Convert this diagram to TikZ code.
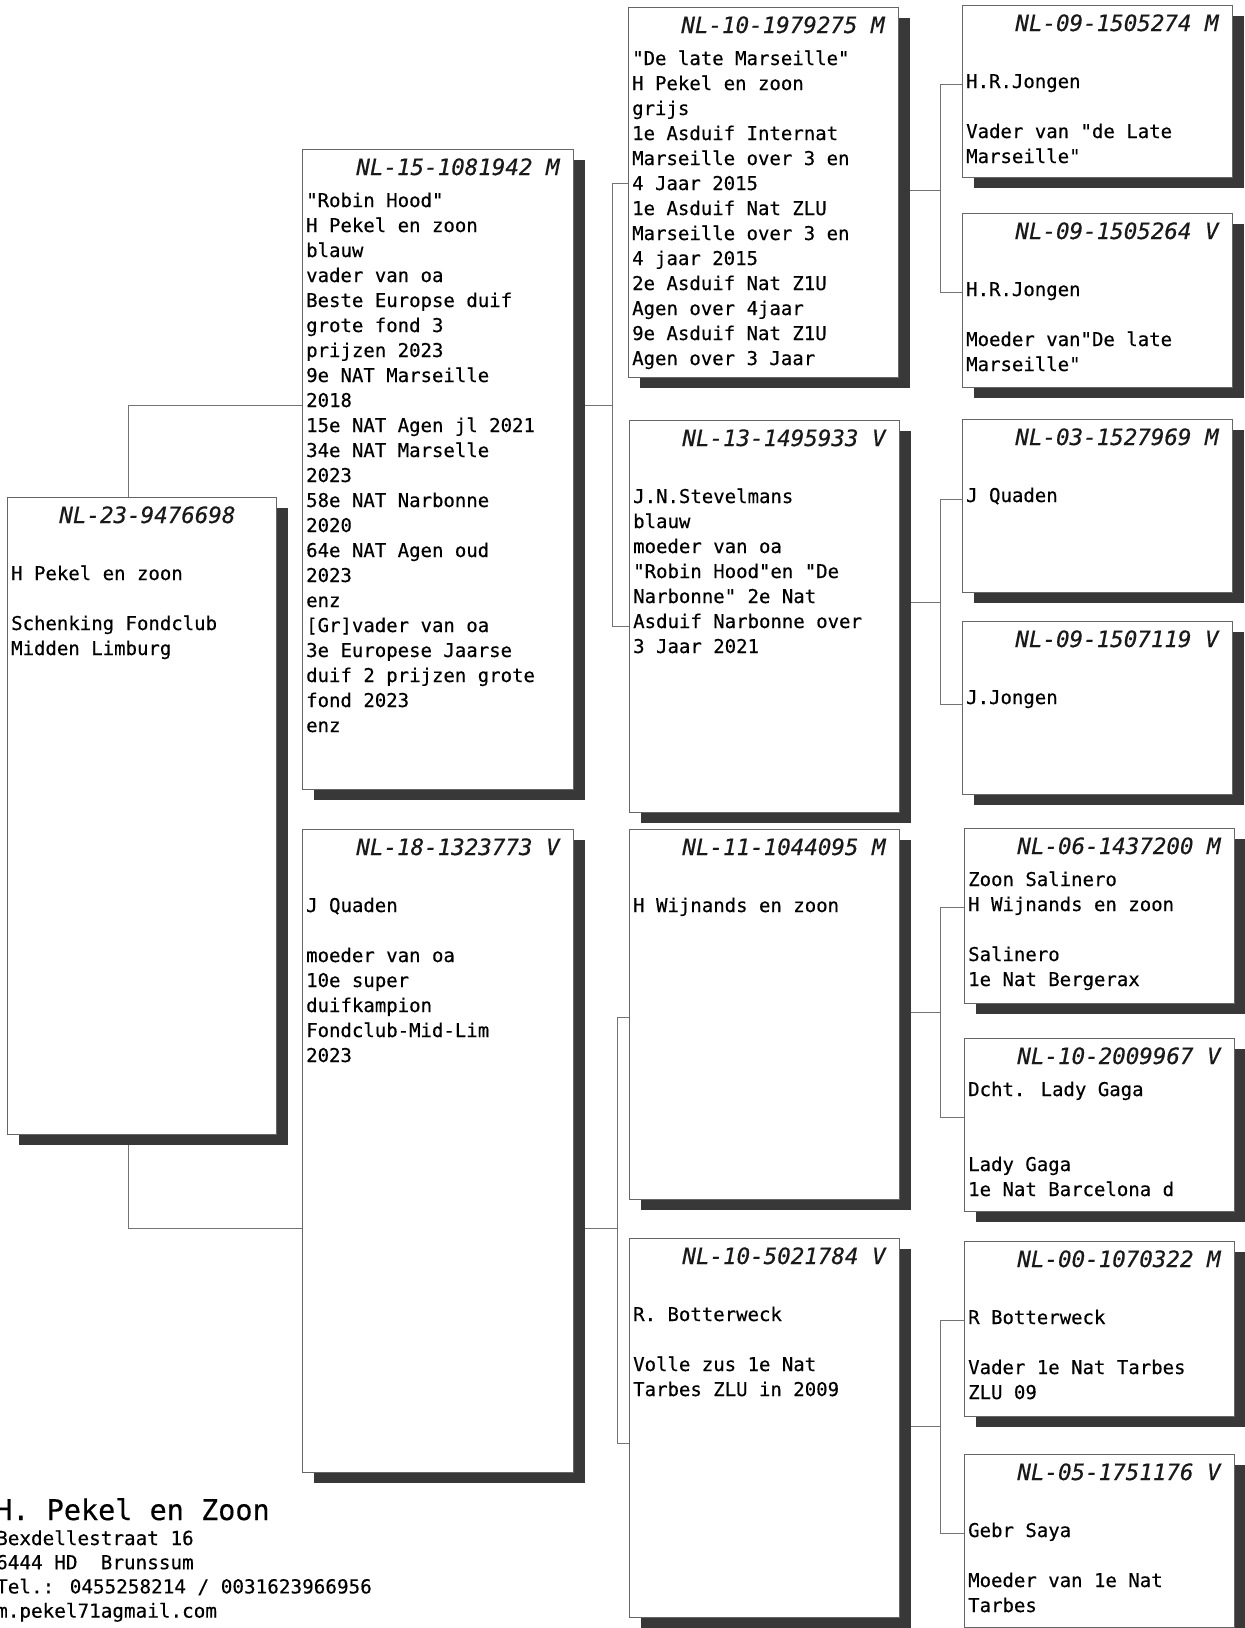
\documentclass[tikz,border=0pt]{standalone}
\usepackage{fontspec}
\newfontfamily\pedfont[FakeBold=0.4]{DejaVu Sans Mono}
\usetikzlibrary{shadows,backgrounds,calc}
\tikzset{
  pbox/.style={draw=black!60, line width=0.8pt, fill=white, anchor=north west, inner sep=0pt,
    drop shadow={shadow xshift=12pt, shadow yshift=-11pt, fill=black!78, opacity=1}},
  head/.style={inner sep=0pt, text=black!90, font=\pedfont\itshape\fontsize{22.5}{25}\selectfont},
  body/.style={inner sep=0pt, text=black, anchor=base west},
  conn/.style={draw=black!55, line width=0.7pt}
}
\newcommand\pedbox[7]{%
  \node[pbox, minimum width=#4pt, minimum height=#5pt] (#1) at (#2,#3) {};
  \node[head, anchor=base east] (#1h) at ($(#1.north east)+(-14,26)$) {#6};
  \node[body] (#1t) at ($(#1.north west)+(4,58)$) {\parbox[t]{265pt}{\pedfont\fontsize{19}{25}\selectfont\raggedright #7}};
}
\begin{document}
\begin{tikzpicture}[x=1pt,y=-1pt]
\useasboundingbox (0,0) rectangle (1245,1628);

% generation 1
\pedbox{A}{7}{497}{269}{637}{NL-23-9476698\phantom{\ M}}{\mbox{}\\H Pekel en zoon\\\mbox{}\\Schenking Fondclub\\Midden Limburg}

% generation 2
\pedbox{B1}{302}{149}{271}{640}{NL-15-1081942 M}{"Robin Hood"\\H Pekel en zoon\\blauw\\vader van oa\\Beste Europse duif\\grote fond 3\\prijzen 2023\\9e NAT Marseille\\2018\\15e NAT Agen jl 2021\\34e NAT Marselle\\2023\\58e NAT Narbonne\\2020\\64e NAT Agen oud\\2023\\enz\\{[}Gr{]}vader van oa\\3e Europese Jaarse\\duif 2 prijzen grote\\fond 2023\\enz}
\pedbox{B2}{302}{829}{271}{643}{NL-18-1323773 V}{\mbox{}\\J Quaden\\\mbox{}\\moeder van oa\\10e super\\duifkampion\\Fondclub-Mid-Lim\\2023}

% generation 3
\pedbox{C1}{628}{7}{270}{370}{NL-10-1979275 M}{"De late Marseille"\\H Pekel en zoon\\grijs\\1e Asduif Internat\\Marseille over 3 en\\4 Jaar 2015\\1e Asduif Nat ZLU\\Marseille over 3 en\\4 jaar 2015\\2e Asduif Nat Z1U\\Agen over 4jaar\\9e Asduif Nat Z1U\\Agen over 3 Jaar}
\pedbox{C2}{629}{420}{270}{392}{NL-13-1495933 V}{\mbox{}\\J.N.Stevelmans\\blauw\\moeder van oa\\"Robin Hood"en "De\\Narbonne" 2e Nat\\Asduif Narbonne over\\3 Jaar 2021}
\pedbox{C3}{629}{829}{270}{370}{NL-11-1044095 M}{\mbox{}\\H Wijnands en zoon}
\pedbox{C4}{629}{1238}{270}{379}{NL-10-5021784 V}{\mbox{}\\R. Botterweck\\\mbox{}\\Volle zus 1e Nat\\Tarbes ZLU in 2009}

% generation 4
\pedbox{D1}{962}{5}{270}{172}{NL-09-1505274 M}{\mbox{}\\H.R.Jongen\\\mbox{}\\Vader van "de Late\\Marseille"}
\pedbox{D2}{962}{213}{270}{174}{NL-09-1505264 V}{\mbox{}\\H.R.Jongen\\\mbox{}\\Moeder van"De late\\Marseille"}
\pedbox{D3}{962}{419}{270}{173}{NL-03-1527969 M}{\mbox{}\\J Quaden}
\pedbox{D4}{962}{621}{270}{173}{NL-09-1507119 V}{\mbox{}\\J.Jongen}
\pedbox{D5}{964}{828}{270}{175}{NL-06-1437200 M}{Zoon Salinero\\H Wijnands en zoon\\\mbox{}\\Salinero\\1e Nat Bergerax}
\pedbox{D6}{964}{1038}{270}{173}{NL-10-2009967 V}{Dcht. Lady Gaga\\\mbox{}\\\mbox{}\\Lady Gaga\\1e Nat Barcelona d}
\pedbox{D7}{964}{1241}{270}{175}{NL-00-1070322 M}{\mbox{}\\R Botterweck\\\mbox{}\\Vader 1e Nat Tarbes\\ZLU 09}
\pedbox{D8}{964}{1454}{270}{173}{NL-05-1751176 V}{\mbox{}\\Gebr Saya\\\mbox{}\\Moeder van 1e Nat\\Tarbes}

% connector junctions
\coordinate (kB1) at (128,405);
\coordinate (kB2) at (128,1228);
\coordinate (kC1) at (612,183);
\coordinate (kC2) at (612,626);
\coordinate (kC3) at (617,1017);
\coordinate (kC4) at (617,1443);
\coordinate (kD1) at (940,84);
\coordinate (kD2) at (940,292);
\coordinate (kD3) at (940,499);
\coordinate (kD4) at (940,704);
\coordinate (kD5) at (940,907);
\coordinate (kD6) at (940,1117);
\coordinate (kD7) at (940,1320);
\coordinate (kD8) at (940,1533);

\begin{pgfonlayer}{background}
\fill[white] (0,0) rectangle (1245,1628);
\draw[conn] (A.north -| kB1) |- (B1.west |- kB1);
\draw[conn] (A.south -| kB2) |- (B2.west |- kB2);
\draw[conn] (B1.east |- kB1) -- (kB1 -| kC1);
\draw[conn] (C1.west |- kC1) -| (kC2) -- (C2.west |- kC2);
\draw[conn] (B2.east |- kB2) -- (kB2 -| kC3);
\draw[conn] (C3.west |- kC3) -| (kC4) -- (C4.west |- kC4);
\draw[conn] (C1.east |- 0,190) -- (940,190);
\draw[conn] (D1.west |- kD1) -| (kD2) -- (D2.west |- kD2);
\draw[conn] (C2.east |- 0,602) -- (940,602);
\draw[conn] (D3.west |- kD3) -| (kD4) -- (D4.west |- kD4);
\draw[conn] (C3.east |- 0,1012) -- (940,1012);
\draw[conn] (D5.west |- kD5) -| (kD6) -- (D6.west |- kD6);
\draw[conn] (C4.east |- 0,1426) -- (940,1426);
\draw[conn] (D7.west |- kD7) -| (kD8) -- (D8.west |- kD8);
\end{pgfonlayer}

% footer
\node[body] (foot1) at (-5,1520) {\pedfont\fontsize{28.5}{30}\selectfont H. Pekel en Zoon};
\node[body] (foot2) at (-4,1545) {\parbox[t]{500pt}{\pedfont\fontsize{19.3}{24.2}\selectfont Bexdellestraat 16\\6444 HD\ \ Brunssum\\Tel.: 0455258214 / 0031623966956\\m.pekel71agmail.com}};
\end{tikzpicture}
\end{document}
